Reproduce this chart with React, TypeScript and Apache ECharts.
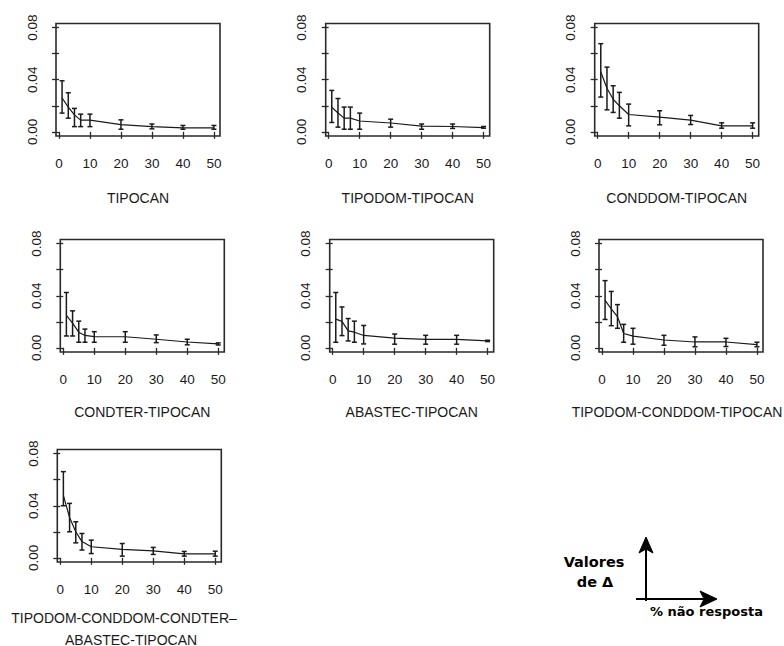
import React, { useEffect, useRef } from "react";
import * as echarts from "echarts";

// ---- data ----
const xValues = [1, 3, 5, 7, 10, 20, 30, 40, 50];
const xTickValues = [0, 10, 20, 30, 40, 50];
const yTickValues = [0, 0.02, 0.04, 0.06, 0.08];
const yLabelValues = [0, 0.04, 0.08];

const panelTitles = [
  "TIPOCAN",
  "TIPODOM-TIPOCAN",
  "CONDDOM-TIPOCAN",
  "CONDTER-TIPOCAN",
  "ABASTEC-TIPOCAN",
  "TIPODOM-CONDDOM-TIPOCAN",
  "TIPODOM-CONDDOM-CONDTER\u2013\nABASTEC-TIPOCAN",
];

const tipocanMean = [0.026, 0.019, 0.013, 0.009, 0.009, 0.0055, 0.004, 0.003, 0.003];
const tipocanLow = [0.0144, 0.0105, 0.004, 0.004, 0.004, 0.002, 0.0023, 0.002, 0.002];
const tipocanHigh = [0.0392, 0.03, 0.018, 0.0136, 0.0136, 0.0092, 0.006, 0.0049, 0.0049];

const tipodomMean = [0.019, 0.0145, 0.0105, 0.0105, 0.0083, 0.0068, 0.0044, 0.0041, 0.0033];
const tipodomLow = [0.0072, 0.0036, 0.002, 0.002, 0.002, 0.0036, 0.002, 0.0026, 0.0028];
const tipodomHigh = [0.0318, 0.0256, 0.019, 0.019, 0.0144, 0.0097, 0.006, 0.006, 0.0041];

const conddomMean = [0.046, 0.0335, 0.025, 0.02, 0.0133, 0.0113, 0.009, 0.0046, 0.0045];
const conddomLow = [0.0267, 0.0169, 0.0149, 0.0105, 0.0046, 0.0054, 0.0056, 0.0028, 0.0028];
const conddomHigh = [0.0677, 0.0497, 0.0354, 0.0303, 0.0213, 0.0162, 0.0126, 0.0069, 0.0069];

const condterMean = [0.025, 0.019, 0.012, 0.0095, 0.0086, 0.0085, 0.0066, 0.0045, 0.003];
const condterLow = [0.0091, 0.0091, 0.0043, 0.0043, 0.0043, 0.0043, 0.004, 0.0023, 0.0022];
const condterHigh = [0.0425, 0.0284, 0.0205, 0.0144, 0.0124, 0.0124, 0.0099, 0.0066, 0.0038];

const abastecMean = [0.022, 0.0203, 0.013, 0.012, 0.0095, 0.0075, 0.0065, 0.0065, 0.0053];
const abastecLow = [0.0043, 0.0094, 0.0053, 0.0043, 0.003, 0.0028, 0.0028, 0.0028, 0.0048];
const abastecHigh = [0.0425, 0.0314, 0.0225, 0.0205, 0.0172, 0.0106, 0.0096, 0.0096, 0.0058];

const tdcdMean = [0.0365, 0.03, 0.024, 0.011, 0.009, 0.006, 0.0045, 0.0045, 0.0025];
const tdcdLow = [0.0218, 0.017, 0.015, 0.0043, 0.0028, 0.002, 0.0008, 0.001, 0.0008];
const tdcdHigh = [0.0516, 0.0433, 0.0332, 0.018, 0.015, 0.0096, 0.0084, 0.0073, 0.0043];

const allMean = [0.048, 0.031, 0.02, 0.0125, 0.0085, 0.0065, 0.0053, 0.003, 0.003];
const allLow = [0.04, 0.02, 0.0115, 0.006, 0.0033, 0.0013, 0.0026, 0.0013, 0.0013];
const allHigh = [0.0662, 0.0418, 0.0277, 0.0187, 0.0136, 0.011, 0.008, 0.0049, 0.0051];

const panelMeans = [tipocanMean, tipodomMean, conddomMean, condterMean, abastecMean, tdcdMean, allMean];
const panelLows = [tipocanLow, tipodomLow, conddomLow, condterLow, abastecLow, tdcdLow, allLow];
const panelHighs = [tipocanHigh, tipodomHigh, conddomHigh, condterHigh, abastecHigh, tdcdHigh, allHigh];

// ---- layout ----
const BOX_W = 164;
const BOX_H = 112.5;
const gridLefts = [56, 325.7, 594.7, 60.3, 329.7, 599, 57.3];
const gridTops = [23.5, 23.5, 23.5, 239.5, 239.5, 239.5, 449.5];
const titleX = [138, 407.7, 676.7, 142.3, 411.7, 677, 124];
const titleY = [198, 198, 198, 412, 412, 412, 618];

const INK = "#1a1a1a";
const FONT = "'Liberation Sans', Arial, sans-serif";

export default function App() {
  const ref = useRef<HTMLDivElement>(null);

  useEffect(() => {
    if (!ref.current) return;
    const chart = echarts.init(ref.current, undefined, { renderer: "svg" });

    const grids: any[] = [];
    const xAxes: any[] = [];
    const yAxes: any[] = [];
    const series: any[] = [];
    const graphics: any[] = [];

    for (let i = 0; i < 7; i++) {
      grids.push({
        left: gridLefts[i],
        top: gridTops[i],
        width: BOX_W,
        height: BOX_H,
        show: true,
        borderColor: "#2a2a2a",
        borderWidth: 1.6,
        backgroundColor: "transparent",
      });
      xAxes.push({
        type: "value",
        gridIndex: i,
        min: -0.96,
        max: 51.96,
        splitLine: { show: false },
        axisLine: { show: false },
        axisTick: {
          show: true,
          inside: false,
          length: 7,
          lineStyle: { color: "#2a2a2a", width: 1.3 },
          customValues: xTickValues,
        },
        axisLabel: {
          show: true,
          margin: 20,
          color: INK,
          fontSize: 13.5,
          fontFamily: FONT,
          customValues: xTickValues,
        },
      });
      yAxes.push({
        type: "value",
        gridIndex: i,
        min: -0.0032,
        max: 0.0832,
        splitLine: { show: false },
        axisLine: { show: false },
        axisTick: {
          show: true,
          inside: false,
          length: 7,
          lineStyle: { color: "#2a2a2a", width: 1.3 },
          customValues: yTickValues,
        },
        axisLabel: {
          show: true,
          rotate: 90,
          margin: 17,
          color: INK,
          fontSize: 13.5,
          fontFamily: FONT,
          customValues: yLabelValues,
          formatter: (v: number) => v.toFixed(2),
        },
      });

      const means = panelMeans[i];
      const lows = panelLows[i];
      const highs = panelHighs[i];

      series.push({
        type: "line",
        xAxisIndex: i,
        yAxisIndex: i,
        data: xValues.map((x, k) => [x, means[k]]),
        symbol: "none",
        lineStyle: { color: INK, width: 1.2 },
        silent: true,
      });
      series.push({
        type: "custom",
        xAxisIndex: i,
        yAxisIndex: i,
        data: xValues.map((x, k) => [x, lows[k], highs[k]]),
        renderItem: (params: any, api: any) => {
          const lo = api.coord([api.value(0), api.value(1)]);
          const hi = api.coord([api.value(0), api.value(2)]);
          const cap = 2.5;
          const style = { stroke: INK, lineWidth: 1.5 };
          return {
            type: "group",
            children: [
              { type: "line", shape: { x1: lo[0], y1: lo[1], x2: hi[0], y2: hi[1] }, style },
              { type: "line", shape: { x1: lo[0] - cap, y1: lo[1], x2: lo[0] + cap, y2: lo[1] }, style },
              { type: "line", shape: { x1: hi[0] - cap, y1: hi[1], x2: hi[0] + cap, y2: hi[1] }, style },
            ],
          };
        },
        silent: true,
      });

      if (i < 6) {
        graphics.push({
          type: "text",
          x: titleX[i],
          y: titleY[i],
          style: {
            text: panelTitles[i],
            fill: INK,
            fontSize: 14,
            fontFamily: FONT,
            align: "center",
            verticalAlign: "middle",
          },
        });
      } else {
        const lines = panelTitles[i].split("\n");
        graphics.push({
          type: "text",
          x: titleX[i],
          y: titleY[i],
          style: { text: lines[0], fill: INK, fontSize: 14, fontFamily: FONT, align: "center", verticalAlign: "middle" },
        });
        graphics.push({
          type: "text",
          x: 131,
          y: 639.5,
          style: { text: lines[1], fill: INK, fontSize: 14, fontFamily: FONT, align: "center", verticalAlign: "middle" },
        });
      }
    }

    // key in lower-right corner
    const keyFont = "'DejaVu Sans', Verdana, sans-serif";
    graphics.push(
      { type: "line", shape: { x1: 646, y1: 601, x2: 646, y2: 546 }, style: { stroke: "#000", lineWidth: 2 } },
      {
        type: "polygon",
        shape: { points: [[646, 537], [653, 553], [646, 549], [639, 553]] },
        style: { fill: "#000", stroke: "#000", lineWidth: 1 },
      },
      { type: "line", shape: { x1: 636, y1: 599, x2: 708, y2: 599 }, style: { stroke: "#000", lineWidth: 2 } },
      {
        type: "polygon",
        shape: { points: [[717, 599], [700, 591], [704, 599], [700, 607]] },
        style: { fill: "#000", stroke: "#000", lineWidth: 1 },
      },
      {
        type: "text",
        x: 594,
        y: 562,
        style: { text: "Valores", fill: "#000", fontSize: 14.5, fontWeight: "bold", fontFamily: keyFont, align: "center", verticalAlign: "middle" },
      },
      {
        type: "text",
        x: 595,
        y: 582,
        style: { text: "de \u0394", fill: "#000", fontSize: 14.5, fontWeight: "bold", fontFamily: keyFont, align: "center", verticalAlign: "middle" },
      },
      {
        type: "text",
        x: 650,
        y: 611,
        style: { text: "% n\u00e3o resposta", fill: "#000", fontSize: 13, fontWeight: "bold", fontFamily: keyFont, align: "left", verticalAlign: "middle" },
      }
    );

    chart.setOption({
      animation: false,
      backgroundColor: "#fff",
      grid: grids,
      xAxis: xAxes,
      yAxis: yAxes,
      series,
      graphic: graphics,
    });

    return () => chart.dispose();
  }, []);

  return (
    <div
      ref={ref}
      style={{ position: "fixed", left: 0, top: 0, width: 784, height: 646, background: "#fff" }}
    />
  );
}
